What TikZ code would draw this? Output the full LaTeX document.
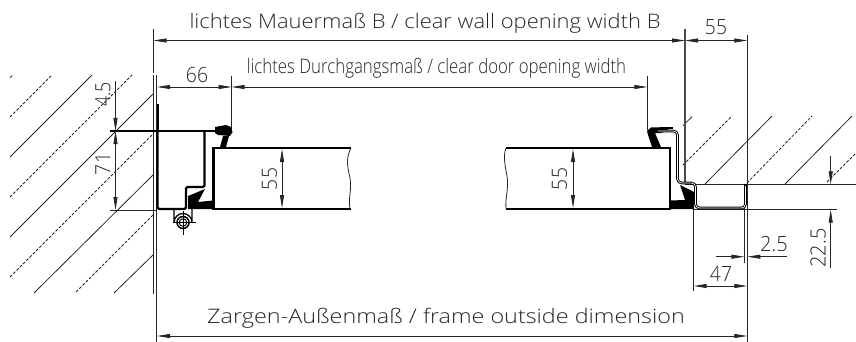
\documentclass[tikz,border=0pt]{standalone}
\usepackage{fontspec}
\setmainfont{Open Sans Light}
\usetikzlibrary{arrows.meta}
\tikzset{
  thinl/.style={line width=0.8pt,draw=black!85},
  hatchs/.style={line width=0.8pt,draw=black!85},
  hatchd/.style={line width=0.8pt,draw=black!85,dash pattern=on 3pt off 1.6pt},
  thick3/.style={line width=2.8pt,draw=black},
  prof/.style={line width=2.4pt,draw=black,line join=round},
  dimboth/.style={thinl,{Stealth[length=13pt,width=4pt,inset=0pt]}-{Stealth[length=13pt,width=4pt,inset=0pt]}},
  dimend/.style={thinl,-{Stealth[length=13pt,width=4pt,inset=0pt]}},
  lbl/.style={inner sep=0pt,text=black!85},
}
\newcommand{\txt}[3]{\scalebox{#1}[#2]{#3}}
\begin{document}
\begin{tikzpicture}[x=1pt,y=-1pt]
\useasboundingbox (0,0) rectangle (856,342);
% hatch left
\draw[hatchd] (10,77.6)--(13,75);
\draw[hatchd] (10,117)--(52,75);
\draw[hatchs] (10,157)--(92,75);
\draw[hatchd] (10,197)--(132,75);
\draw[hatchs] (10,237)--(153,94);
\draw[hatchd] (10,277)--(153,134);
\draw[hatchs] (34,293)--(153,175);
\draw[hatchd] (76,292)--(153,215);
\draw[hatchs] (114,293)--(153,255);
% hatch right
\draw[hatchs] (683,125.6)--(692,116.7);
\draw[hatchd] (683,165)--(732,116);
\draw[hatchs] (705,184)--(772,116);
\draw[hatchd] (747,183)--(812,116);
\draw[hatchs] (785,184)--(852,116);
\draw[hatchd] (827,182)--(856,153);
% wall lines
\draw[thinl] (153.5,29)--(153.5,73);
\draw[thinl] (153.5,75)--(153.5,294);
\draw[thinl,line width=1.3pt,draw=black!70] (685,29)--(685,184);
\draw[thinl] (685,184.3)--(856,184.3);
\draw[thinl] (693,209.7)--(837,209.7);
% extension lines
\draw[thinl] (156.5,75)--(156.5,342);
\draw[thinl] (231.5,76)--(231.5,130);
\draw[thinl] (647.3,76)--(647.3,130);
\draw[thinl] (747.3,35)--(747.3,342);
\draw[thinl] (693.7,207)--(693.7,291);
\draw[thinl] (744.4,205)--(744.4,263);
\draw[thinl] (110,210)--(157,210);
% dimensions
\coordinate (wl) at (153.5,40.5); \coordinate (wr) at (685,40.5); \coordinate (wf) at (747.3,40.5);
\draw[dimboth] (wl)--(wr);
\draw[dimboth] (wr)--(wf);
\node[lbl] (tB) at (425,23.5) {\txt{2.195}{2.0}{lichtes Mauermaß B / clear wall opening width B}};
\node[lbl] (t55a) at (716,27.5) {\txt{1.93}{2.1}{55}};
\coordinate (d0) at (157,87); \coordinate (d1) at (231.5,87); \coordinate (d2) at (647.3,87);
\draw[dimboth] (d0)--(d1);
\draw[dimboth] (d1)--(d2);
\node[lbl] (t66) at (197,75) {\txt{1.93}{2.1}{66}};
\node[lbl] (tD) at (436.5,68.5) {\txt{1.68}{2.0}{lichtes Durchgangsmaß / clear door opening width}};
\coordinate (z0) at (157,336); \coordinate (z1) at (747.3,336);
\draw[dimboth] (z0)--(z1);
\node[lbl] (tZ) at (446,318) {\txt{2.336}{2.0}{Zargen-Außenmaß / frame outside dimension}};
% 4.5 / 71
\coordinate (a0) at (115.5,81); \coordinate (a1) at (115.5,131); \coordinate (a3) at (115.5,210);
\draw[dimend] (a0)--(a1);
\draw[dimboth] (a1)--(a3);
\node[lbl,rotate=90] (t45) at (103,94.5) {\txt{1.78}{2.1}{4.5}};
\node[lbl,rotate=90] (t71) at (103,164) {\txt{1.93}{2.1}{71}};
% 55 in leaves
\draw[dimboth] (282,149)--(282,208);
\draw[dimboth] (573,149)--(573,208);
\node[lbl,rotate=90] (t55b) at (269.5,179) {\txt{1.93}{2.1}{55}};
\node[lbl,rotate=90] (t55c) at (559.5,179) {\txt{1.93}{2.1}{55}};
% 22.5
\coordinate (c0) at (830.7,156); \coordinate (c1) at (830.7,184.3); \coordinate (c2) at (830.7,209.7); \coordinate (c3) at (830.7,268);
\draw[dimend] (c0)--(c1);
\draw[dimend] (c3)--(c2);
\node[lbl,rotate=90] (t225) at (818,248) {\txt{2.0}{2.1}{22.5}};
% 47
\draw[dimboth] (693.7,286)--(747.3,286);
\node[lbl] (t47) at (721,273.5) {\txt{1.93}{2.1}{47}};
% 2.5
\coordinate (e0) at (716,256.7); \coordinate (e1) at (744.4,256.7); \coordinate (e2) at (747.3,256.7); \coordinate (e3) at (787,256.7);
\draw[dimend] (e0)--(e1);
\draw[dimend] (e3)--(e2);
\node[lbl] (t25) at (774,244) {\txt{2.0}{2.1}{2.5}};
% left frame
\draw[prof,line width=1.9pt] (110,131)--(220,131);
\draw[prof,rounded corners=1.5pt] (157.5,131)--(157.5,209)--(186,209)--(186,187)--(204.5,187)--(204.5,131);
\draw[line width=2pt] (157.5,104)--(157.5,131);
% leaves
\draw[thick3] (351,148)--(213.5,148)--(213.5,209)--(351,209);
\draw[thinl] (351,148) .. controls (346,158) and (347,165) .. (350,178) .. controls (352,190) and (348,198) .. (350,209);
\draw[thick3] (506,148)--(670,148)--(670,209)--(506,209);
\draw[thinl] (506,148) .. controls (503,156) and (505,165) .. (507,176) .. controls (509,188) and (505,198) .. (506,209);
% left seal
\fill (215,127)--(226,125)--(231,127)--(232.5,132)--(230,136)--(218,135)--(215,133)--cycle;
\fill (223,136)--(229,136)--(226,147)--(220,147)--cycle;
% left gasket
\fill (188,209)--(213,209)--(213,200.5)--(198,202)--(205,189)--(193,194)--(188,196)--cycle;
% hinge
\draw[line width=1.3pt] (174,209)--(174,222.5) arc[start angle=180,end angle=360,radius=9]--(192,209);
\draw[line width=1.5pt] (183,222.5) circle[radius=6];
\draw[line width=0.9pt] (183,222.5) circle[radius=3.8];
\draw[line width=0.5pt] (173,222.5)--(196,222.5) (183,211)--(183,235);
% right seal
\fill (647,131)--(651,127.5)--(668,127)--(668,131)--(660,133)--(655,133)--(661,147)--(652,147)--(648,135)--cycle;
\fill (668,127)--(673,127)--(673,129)--(668,129)--cycle;
% right frame: double line
\draw[line width=2.6pt,line join=round,rounded corners=4pt] (652,131)--(677.5,131)--(677.5,183)--(695.5,183)--(695.5,208)--(745.5,208)--(745.5,184);
\draw[line width=0.7pt,white,line join=round,rounded corners=4pt] (658,131)--(677.5,131)--(677.5,183)--(695.5,183)--(695.5,208)--(745.5,208)--(745.5,186);
% right gasket
\fill (670,209)--(694,209)--(694,192)--(680,185)--(685,200)--(670,200.5)--cycle;
\end{tikzpicture}
\end{document}
